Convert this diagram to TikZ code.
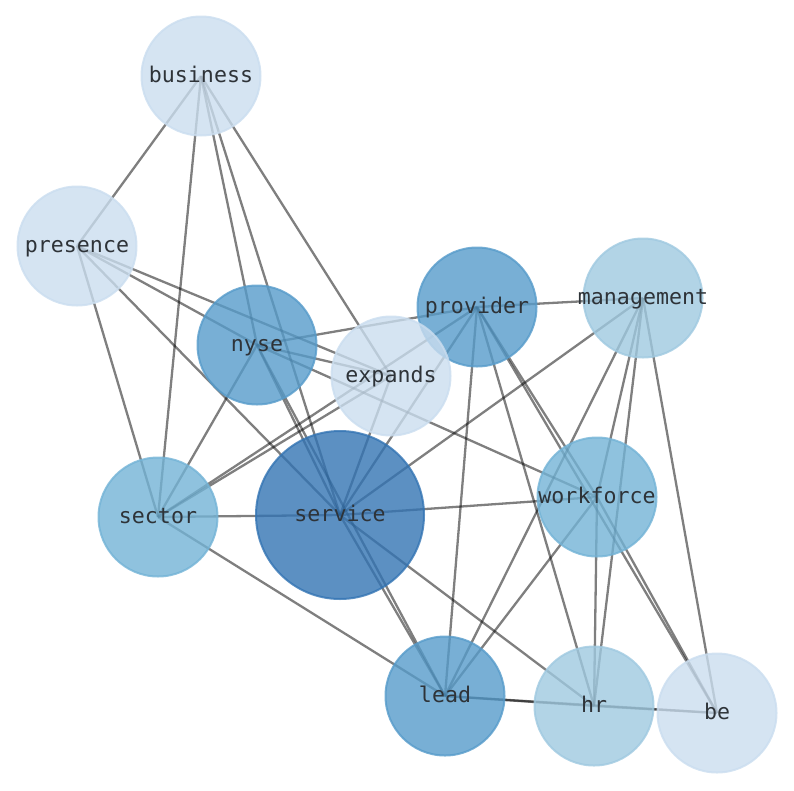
\documentclass[tikz,border=0pt]{standalone}
\usepackage{fontspec}
\newfontfamily\monofnt{DejaVu Sans Mono}
\pgfdeclarelayer{bg}
\pgfsetlayers{bg,main}
\definecolor{cfive}{HTML}{CADDEF}
\definecolor{csix}{HTML}{9FC9E0}
\definecolor{cseven}{HTML}{73B3D6}
\definecolor{ceight}{HTML}{569BCA}
\definecolor{cten}{HTML}{3374B3}
\definecolor{labelc}{HTML}{2E3338}
\newcommand{\lbl}[1]{\makebox[0pt][c]{#1}}
\begin{document}
\begin{tikzpicture}[x=1pt,y=-1pt,
  nd/.style={circle, inner sep=0pt, minimum size=119pt, line width=2pt,
    fill opacity=0.8, draw opacity=0.8, text opacity=1,
    font=\monofnt\fontsize{21.6}{26}\selectfont, text=labelc,
    text height=13pt, text depth=0pt},
  dfive/.style={nd, fill=cfive, draw=cfive},
  dsix/.style={nd, fill=csix, draw=csix},
  dseven/.style={nd, fill=cseven, draw=cseven},
  deight/.style={nd, fill=ceight, draw=ceight},
  dten/.style={nd, fill=cten, draw=cten, minimum size=168pt},
  edge/.style={line width=2.3pt, draw=black, draw opacity=0.5}]
\useasboundingbox (0,0) rectangle (794,790);

\node[dfive]  (business)   at (201,76)  {\lbl{business}};
\node[dfive]  (presence)   at (77,246)  {\lbl{presence}};
\node[deight] (provider)   at (477,307) {\lbl{provider}};
\node[dsix]   (management) at (643,298) {\lbl{management}};
\node[deight] (nyse)       at (257,345) {\lbl{nyse}};
\node[dfive]  (expands)    at (391,376) {\lbl{expands}};
\node[dseven] (sector)     at (158,517) {\lbl{sector}};
\node[dten]   (service)    at (340,515) {\lbl{service}};
\node[dseven] (workforce)  at (597,497) {\lbl{workforce}};
\node[deight] (lead)       at (445,696) {\lbl{lead}};
\node[dsix]   (hr)         at (594,706) {\lbl{hr}};
\node[dfive]  (be)         at (717,713) {\lbl{be}};

\begin{pgfonlayer}{bg}
\foreach \a/\b in {business/presence, business/sector, business/nyse, business/service, business/expands,
  presence/sector, presence/service, presence/expands, presence/nyse,
  nyse/provider, nyse/expands, nyse/workforce, nyse/sector, nyse/service, nyse/lead,
  expands/sector, expands/service,
  sector/provider, sector/service, sector/lead,
  service/provider, service/workforce, service/management, service/hr, service/lead,
  provider/management, provider/lead, provider/hr, provider/be, provider/workforce,
  management/lead, management/workforce, management/hr, management/be,
  workforce/be, workforce/lead, workforce/hr,
  lead/hr, lead/be, hr/be}
  \draw[edge] (\a.center) -- (\b.center);
\end{pgfonlayer}
\end{tikzpicture}
\end{document}
